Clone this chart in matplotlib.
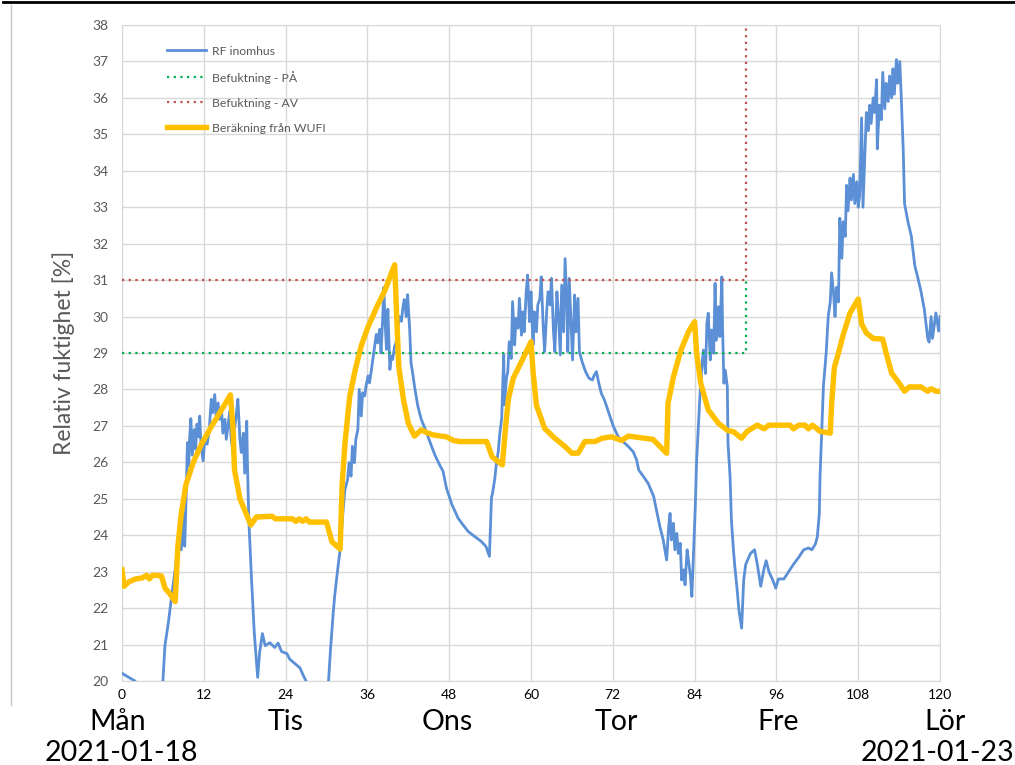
import matplotlib
matplotlib.use("Agg")
import matplotlib.pyplot as plt
from matplotlib.lines import Line2D

plt.rcParams['font.family'] = ['Lato', 'DejaVu Sans']

# timmar från måndag 00:00, relativ fuktighet [%]
rf_inomhus = [
    (0, 20.21), (1.0, 20.1), (1.9, 20.0), (4.0, 19.5), (6.0, 20.0), (6.3, 20.97), (6.8, 21.6),
    (7.3, 22.35), (7.8, 23.07), (8.3, 23.98), (8.4, 24.26), (8.7, 23.6), (9.0, 24.62), (9.2, 23.7),
    (9.4, 24.99), (9.6, 26.54), (9.8, 25.9), (9.9, 26.6), (10.1, 27.2), (10.3, 26.2), (10.6, 26.9),
    (10.8, 26.36), (11.0, 27.05), (11.2, 26.7), (11.4, 27.27), (11.6, 26.45), (11.9, 26.04),
    (12.1, 26.54), (12.5, 26.5), (12.8, 26.9), (13.1, 27.73), (13.3, 27.36), (13.6, 27.86),
    (13.8, 27.27), (14.1, 27.63), (14.3, 27.18), (14.6, 27.45), (14.8, 26.8), (15.1, 27.18),
    (15.3, 26.63), (15.6, 27.1), (15.8, 27.4), (16.0, 26.7), (16.3, 26.2), (16.5, 26.9),
    (16.8, 27.36), (17.0, 27.73), (17.3, 26.63), (17.5, 26.27), (17.8, 26.8), (18.0, 25.7),
    (18.3, 27.13), (18.4, 25.98), (18.6, 24.44), (19.0, 22.8), (19.4, 21.34), (19.9, 20.1),
    (20.2, 20.8), (20.6, 21.3), (21.0, 20.97), (21.7, 21.05), (22.4, 20.92), (22.9, 21.04),
    (23.4, 20.81), (24.2, 20.75), (24.6, 20.6), (25.4, 20.47), (26.1, 20.36), (26.6, 20.15),
    (27.0, 20.0), (28.7, 19.5), (30.3, 20.0), (30.6, 20.9), (31.0, 21.9), (31.2, 22.33),
    (31.6, 23.0), (32.0, 23.6), (32.4, 24.6), (32.7, 25.25), (33.1, 25.53), (33.3, 25.99),
    (33.6, 25.62), (33.8, 26.44), (34.1, 25.99), (34.3, 26.63), (34.6, 26.9), (34.8, 28.0),
    (35.1, 27.27), (35.3, 27.91), (35.6, 27.82), (35.8, 28.1), (36.1, 28.37), (36.3, 28.18),
    (36.6, 28.55), (36.8, 28.82), (37.0, 29.1), (37.3, 29.51), (37.5, 29.28), (37.8, 29.65),
    (38.0, 29.0), (38.3, 30.2), (38.4, 30.8), (38.6, 29.83), (38.8, 29.1), (39.0, 30.2),
    (39.3, 28.55), (39.5, 28.91), (39.7, 28.82), (40.0, 29.19), (40.2, 29.28), (40.5, 29.74),
    (40.7, 30.0), (41.0, 29.87), (41.2, 30.24), (41.4, 30.47), (41.7, 30.0), (41.9, 30.6),
    (42.2, 29.65), (42.4, 28.73), (42.7, 28.37), (42.9, 28.1), (43.4, 27.54), (43.9, 27.18),
    (44.4, 26.95), (45.1, 26.6), (45.9, 26.2), (46.6, 25.93), (47.1, 25.75), (47.6, 25.29),
    (48.4, 24.84), (49.3, 24.47), (50.0, 24.29), (50.8, 24.1), (51.7, 23.97), (52.7, 23.83),
    (53.4, 23.69), (53.9, 23.42), (54.2, 25.02), (54.4, 25.2), (54.7, 25.57), (54.9, 25.93),
    (55.2, 26.3), (55.4, 26.75), (55.7, 27.21), (56.0, 28.95), (56.1, 27.58), (56.4, 28.31),
    (56.6, 28.49), (56.8, 29.31), (57.1, 28.85), (57.3, 30.41), (57.6, 29.22), (57.8, 29.95),
    (58.1, 29.68), (58.3, 30.5), (58.6, 29.49), (58.8, 30.13), (59.0, 29.58), (59.3, 30.68),
    (59.5, 31.14), (59.8, 29.86), (60.0, 30.68), (60.3, 29.22), (60.5, 30.13), (60.8, 29.58),
    (61.0, 30.32), (61.3, 30.5), (61.5, 31.09), (61.8, 29.68), (62.0, 29.04), (62.3, 30.13),
    (62.5, 30.68), (62.8, 30.32), (63.0, 31.05), (63.3, 29.58), (63.5, 29.04), (63.8, 30.68),
    (64.0, 30.13), (64.3, 28.95), (64.5, 30.86), (64.8, 29.58), (65.0, 31.59), (65.3, 30.13),
    (65.4, 29.04), (65.6, 31.05), (65.9, 29.68), (66.1, 28.81), (66.4, 30.59), (66.6, 29.58),
    (66.9, 30.5), (67.1, 29.04), (67.5, 28.76), (68.0, 28.49), (68.5, 28.31), (69.0, 28.26),
    (69.3, 28.4), (69.6, 28.49), (69.9, 28.21), (70.3, 27.9), (70.8, 27.7), (71.1, 27.53),
    (71.6, 27.25), (72.1, 26.98), (72.8, 26.7), (73.5, 26.57), (74.3, 26.43), (75.0, 26.29),
    (75.5, 26.06), (75.8, 25.79), (76.5, 25.61), (77.2, 25.42), (78.0, 25.06), (78.5, 24.6),
    (78.9, 24.24), (79.4, 23.87), (79.9, 23.32), (80.2, 24.24), (80.4, 24.6), (80.6, 23.87),
    (80.9, 24.33), (81.1, 23.6), (81.4, 24.05), (81.6, 23.5), (81.9, 23.78), (82.1, 22.77),
    (82.4, 23.05), (82.6, 22.64), (82.9, 23.6), (83.1, 23.32), (83.4, 22.86), (83.6, 22.32),
    (83.8, 23.32), (84.1, 24.78), (84.3, 26.06), (84.6, 27.16), (84.8, 27.89), (85.1, 28.71),
    (85.3, 29.08), (85.6, 28.44), (85.8, 29.81), (86.0, 30.09), (86.3, 28.81), (86.5, 29.63),
    (86.8, 28.99), (87.0, 30.91), (87.2, 29.35), (87.5, 30.27), (87.7, 29.45), (88.0, 31.09),
    (88.1, 29.72), (88.3, 28.17), (88.5, 28.53), (88.8, 28.07), (88.9, 26.52), (89.2, 25.61),
    (89.4, 24.42), (89.7, 23.6), (89.9, 23.14), (90.2, 22.59), (90.5, 21.95), (90.9, 21.45),
    (91.2, 22.77), (91.5, 23.2), (92.2, 23.5), (92.8, 23.6), (93.2, 23.2), (93.7, 22.6),
    (94.2, 23.1), (94.5, 23.3), (94.9, 23.0), (95.4, 22.8), (95.9, 22.55), (96.3, 22.8),
    (97.1, 22.8), (97.8, 23.0), (98.5, 23.2), (99.3, 23.4), (100.0, 23.6), (100.7, 23.65),
    (101.2, 23.6), (101.7, 23.75), (102.0, 23.95), (102.3, 24.6), (102.4, 25.6), (102.7, 27.1),
    (102.9, 28.1), (103.3, 29.0), (103.6, 30.0), (103.9, 30.4), (104.1, 31.2), (104.4, 30.6),
    (104.6, 30.0), (104.8, 30.8), (105.1, 30.4), (105.3, 32.7), (105.6, 31.6), (105.8, 32.6),
    (106.1, 32.2), (106.3, 33.6), (106.5, 32.9), (106.8, 33.8), (107.0, 33.2), (107.3, 33.9),
    (107.5, 33.1), (107.8, 33.7), (108.0, 33.0), (108.2, 33.3), (108.5, 35.45), (108.7, 33.0),
    (109.0, 34.6), (109.2, 35.6), (109.5, 35.1), (109.7, 35.8), (109.9, 35.3), (110.2, 36.0),
    (110.4, 35.6), (110.7, 36.5), (110.8, 34.6), (111.1, 35.8), (111.4, 35.4), (111.6, 36.7),
    (111.9, 35.7), (112.1, 36.4), (112.4, 35.9), (112.6, 36.6), (112.9, 36.0), (113.1, 36.8),
    (113.3, 36.1), (113.6, 37.05), (113.8, 36.4), (114.1, 37.0), (114.3, 36.1), (114.6, 34.6),
    (114.8, 33.1), (115.3, 32.6), (115.8, 32.2), (116.3, 31.4), (116.7, 31.1), (117.2, 30.7),
    (117.7, 30.2), (118.2, 29.4), (118.4, 29.3), (118.7, 30.0), (118.9, 29.4), (119.4, 30.1),
    (119.8, 29.6), (120.0, 30.0),
]

wufi = [
    (0, 23.05), (0.3, 22.6), (1.0, 22.72), (2.0, 22.8), (3.0, 22.83), (3.6, 22.9), (4.0, 22.8),
    (4.5, 22.9), (5.0, 22.9), (5.8, 22.88), (6.3, 22.55), (7.0, 22.4), (7.8, 22.18), (8.2, 23.7),
    (8.7, 24.6), (9.4, 25.4), (10.4, 25.97), (11.6, 26.48), (13.1, 26.98), (14.6, 27.44),
    (15.9, 27.85), (16.3, 26.9), (16.5, 25.8), (17.3, 25.0), (18.2, 24.6), (18.9, 24.28),
    (19.7, 24.5), (22.0, 24.52), (22.5, 24.45), (25.0, 24.45), (25.5, 24.38), (26.0, 24.45),
    (26.5, 24.38), (27.0, 24.45), (27.5, 24.36), (30.0, 24.36), (30.8, 23.82), (32.0, 23.62),
    (32.3, 25.4), (32.7, 26.5), (33.4, 27.8), (34.2, 28.53), (35.1, 29.2), (36.1, 29.72),
    (37.4, 30.27), (38.6, 30.73), (39.6, 31.23), (40.0, 31.42), (40.3, 30.0), (40.6, 28.63),
    (41.3, 27.71), (42.0, 27.07), (42.9, 26.72), (43.9, 26.89), (44.9, 26.8), (45.7, 26.75),
    (47.6, 26.7), (48.6, 26.6), (49.6, 26.57), (53.5, 26.57), (54.3, 26.15), (55.8, 25.93),
    (56.3, 27.03), (56.7, 27.76), (57.4, 28.31), (58.6, 28.76), (60.0, 29.31), (60.3, 28.49),
    (60.8, 27.57), (62.0, 26.93), (63.5, 26.66), (65.0, 26.43), (66.0, 26.25), (66.9, 26.25),
    (67.9, 26.57), (69.4, 26.57), (70.4, 26.66), (71.8, 26.7), (73.3, 26.6), (74.3, 26.72),
    (77.9, 26.63), (79.9, 26.25), (80.1, 27.62), (80.9, 28.35), (82.0, 29.08), (83.1, 29.58),
    (84.0, 29.86), (84.3, 28.99), (84.9, 28.17), (86.0, 27.44), (87.5, 27.07), (88.9, 26.87),
    (89.7, 26.84), (90.9, 26.66), (91.7, 26.85), (93.2, 27.02), (94.2, 26.92), (94.9, 27.02),
    (98.0, 27.02), (98.5, 26.92), (99.3, 27.02), (100.2, 27.02), (100.7, 26.92), (101.3, 27.02),
    (102.4, 26.85), (103.9, 26.8), (104.1, 27.6), (104.5, 28.6), (105.1, 29.0), (105.8, 29.5),
    (106.8, 30.1), (108.0, 30.48), (108.5, 29.8), (109.2, 29.55), (110.2, 29.4), (111.6, 29.38),
    (112.1, 29.0), (112.9, 28.45), (114.1, 28.15), (114.8, 27.95), (115.5, 28.07), (117.2, 28.07),
    (118.2, 27.95), (118.7, 28.02), (119.4, 27.95), (120.0, 27.95),
]

# befuktning på/av-gränser
paa_x = [0, 91.5, 91.5]
paa_y = [29, 29, 31]
av_x = [0, 91.5, 91.5]
av_y = [31, 31, 38.5]

x_ticks = [0, 12, 24, 36, 48, 60, 72, 84, 96, 108, 120]
y_ticks = list(range(20, 39))
dagar = ['Mån', 'Tis', 'Ons', 'Tor', 'Fre', 'Lör']
dag_x = [118, 286, 447, 616, 778, 945]

fig = plt.figure(figsize=(10.15, 7.65), dpi=100)
ax = fig.add_axes([122 / 1015, 1 - 681 / 765, 818 / 1015, 656 / 765])

rf_x = [p[0] for p in rf_inomhus]
rf_y = [p[1] for p in rf_inomhus]
w_x = [p[0] for p in wufi]
w_y = [p[1] for p in wufi]

ax.plot(rf_x, rf_y, color='#5B8FD6', lw=2.0, label='RF inomhus', zorder=3)
ax.plot(paa_x, paa_y, color='#00B050', lw=1.6, ls=(0, (1, 2)), label='Befuktning - PÅ', zorder=4)
ax.plot(av_x, av_y, color='#C0504D', lw=1.6, ls=(0, (1, 2)), label='Befuktning - AV', zorder=4)
ax.plot(w_x, w_y, color='#FFC000', lw=3.9, solid_joinstyle='round', label='Beräkning från WUFI', zorder=5)

ax.set_xlim(0, 120)
ax.set_ylim(20, 38)
ax.set_xticks(x_ticks)
ax.set_yticks(y_ticks)
ax.grid(True, color='#D9D9D9', lw=1)
ax.set_axisbelow(True)
for s in ax.spines.values():
    s.set_color('#D9D9D9')
ax.tick_params(length=0, labelsize=10)
ax.tick_params(axis='y', colors='#595959', pad=10)
ax.tick_params(axis='x', colors='black', pad=6)

ax.set_ylabel('Relativ fuktighet [%]', fontsize=16.5, color='#595959')
ax.yaxis.set_label_coords(-0.0575, 0.5)

leg = ax.legend(loc='upper left', bbox_to_anchor=(0.049, 0.976), frameon=False, fontsize=8.8,
                labelspacing=1.15, handlelength=3.2, handletextpad=0.5, borderaxespad=0)
for t in leg.get_texts():
    t.set_color('#595959')

for d, x in zip(dagar, dag_x):
    fig.text(x / 1015, 1 - 722 / 765, d, ha='center', va='center', fontsize=20.5, color='black')
fig.text(121 / 1015, 1 - 753 / 765, '2021-01-18', ha='center', va='center', fontsize=20.5)
fig.text(938 / 1015, 1 - 753 / 765, '2021-01-23', ha='center', va='center', fontsize=20.5)

fig.add_artist(Line2D([0.003, 1], [0.997, 0.997], color='black', lw=2))
fig.add_artist(Line2D([11 / 1015, 11 / 1015], [1 - 705 / 765, 0.993], color='#C8C8C8', lw=1))

fig.savefig('out.png', dpi=100)
